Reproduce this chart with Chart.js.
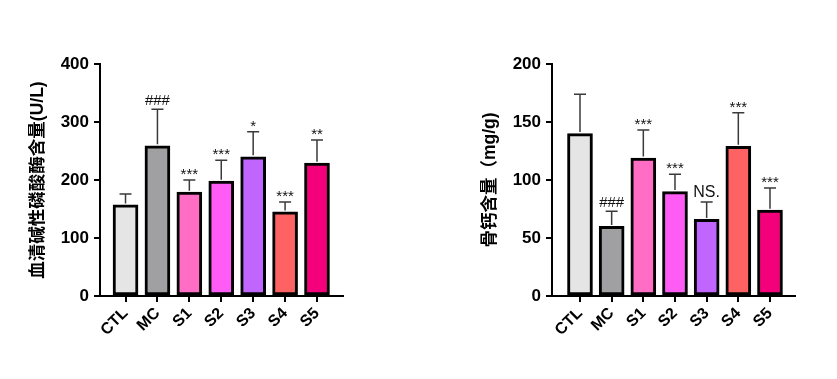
<!DOCTYPE html>
<html>
<head>
<meta charset="utf-8">
<script src="https://cdn.jsdelivr.net/npm/chart.js@4.4.1/dist/chart.umd.min.js"></script>
<style>
html,body{margin:0;padding:0;background:#fff;width:837px;height:379px;overflow:hidden;}
canvas{position:absolute;top:0;}
#c1{left:0;}
#c2{left:420px;}
</style>
</head>
<body>
<canvas id="c1" width="420" height="379"></canvas>
<canvas id="c2" width="417" height="379"></canvas>
<script>
const categories = ['CTL','MC','S1','S2','S3','S4','S5'];
const barColors = ['#e5e5e5','#a0a0a2','#ff6ec4','#ff5cf6','#c165ff','#ff6262','#f5007b'];

// Chart 1: serum ALP (U/L)
const alpMean = [157, 259, 179, 198, 240, 145, 229];
const alpSD   = [19, 63, 21, 36, 43, 17, 40];
const alpMarks = ['', '###', '***', '***', '*', '***', '**'];
const alpTicks = [0, 100, 200, 300, 400];

// Chart 2: bone calcium (mg/g)
const bgpMean = [140, 60, 119, 90, 66, 129, 74];
const bgpSD   = [34, 13, 24, 15, 15, 29, 19];
const bgpMarks = ['', '###', '***', '***', 'NS.', '***', '***'];
const bgpTicks = [0, 50, 100, 150, 200];

const FONT = "'Liberation Sans', Arial, 'Noto Sans CJK SC', sans-serif";

const errorPlugin = {
  id: 'errbars',
  afterDatasetsDraw(chart, args, opts) {
    const ctx = chart.ctx;
    const xs = chart.scales.x, ys = chart.scales.y;
    ctx.save();
    opts.mean.forEach((m, i) => {
      const x = xs.getPixelForValue(i);
      const y0 = ys.getPixelForValue(m);
      const y1 = ys.getPixelForValue(m + opts.sd[i]);
      ctx.strokeStyle = '#3a3a3a';
      ctx.lineWidth = 1.5;
      ctx.beginPath();
      ctx.moveTo(x, y0 - 1.5);
      ctx.lineTo(x, y1);
      ctx.moveTo(x - 6, y1);
      ctx.lineTo(x + 6, y1);
      ctx.stroke();
      const mk = opts.marks[i];
      if (mk) {
        ctx.fillStyle = '#111';
        ctx.textAlign = 'center';
        ctx.textBaseline = 'alphabetic';
        if (mk.startsWith('*')) {
          ctx.font = '15px ' + FONT;
          ctx.fillText(mk, x, y1 - 1);
        } else if (mk.startsWith('#')) {
          ctx.font = '15px ' + FONT;
          ctx.fillText(mk, x, y1 - 4);
        } else {
          ctx.font = '16px ' + FONT;
          ctx.fillText(mk, x, y1 - 5);
        }
      }
    });
    ctx.restore();
  }
};

function makeChart(id, mean, sd, marks, yTicks, title, xmin, xmax, padRight, yWidth, titlePad) {
  new Chart(document.getElementById(id), {
    type: 'bar',
    data: {
      datasets: [{
        data: mean.map((v, i) => ({x: i, y: v})),
        backgroundColor: barColors,
        borderColor: '#000',
        borderWidth: 3,
        borderSkipped: false,
        barThickness: 25
      }]
    },
    options: {
      responsive: false,
      animation: false,
      devicePixelRatio: 1,
      layout: {padding: {left: 0, right: padRight, top: 64, bottom: 0}},
      plugins: {
        legend: {display: false},
        tooltip: {enabled: false},
        errbars: {mean: mean, sd: sd, marks: marks}
      },
      scales: {
        x: {
          type: 'linear',
          offset: false,
          min: xmin, max: xmax,
          afterBuildTicks: (s) => { s.ticks = categories.map((c, i) => ({value: i})); },
          afterFit: (s) => { s.height = 83; },
          grid: {display: true, offset: false, drawOnChartArea: false, drawTicks: true, tickLength: 6, color: '#000', lineWidth: 2},
          border: {display: true, color: '#000', width: 2},
          ticks: {
            autoSkip: false, minRotation: 45, maxRotation: 45, padding: 2,
            color: '#000',
            font: {family: FONT, size: 16, weight: 'bold'},
            callback: (v) => categories[v]
          }
        },
        y: {
          min: yTicks[0], max: yTicks[yTicks.length - 1],
          afterBuildTicks: (s) => { s.ticks = yTicks.map(v => ({value: v})); },
          afterFit: (s) => { s.width = yWidth; },
          grid: {display: true, drawOnChartArea: false, drawTicks: true, tickLength: 6, color: '#000', lineWidth: 2},
          border: {display: true, color: '#000', width: 2},
          ticks: {
            padding: 5, color: '#000',
            font: {family: FONT, size: 17, weight: 'bold'}
          },
          title: {
            display: true, text: title, color: '#000',
            font: {family: FONT, size: 17.5, weight: 'bold'},
            padding: {top: titlePad, bottom: 0}
          }
        }
      }
    },
    plugins: [errorPlugin]
  });
}

makeChart('c1', alpMean, alpSD, alpMarks, alpTicks, '血清碱性磷酸酶含量(U/L)', -0.8, 6.815, 77, 100, 28);
makeChart('c2', bgpMean, bgpSD, bgpMarks, bgpTicks, '骨钙含量（mg/g)', -0.884, 6.79, 42, 132, 60);
</script>
</body>
</html>
